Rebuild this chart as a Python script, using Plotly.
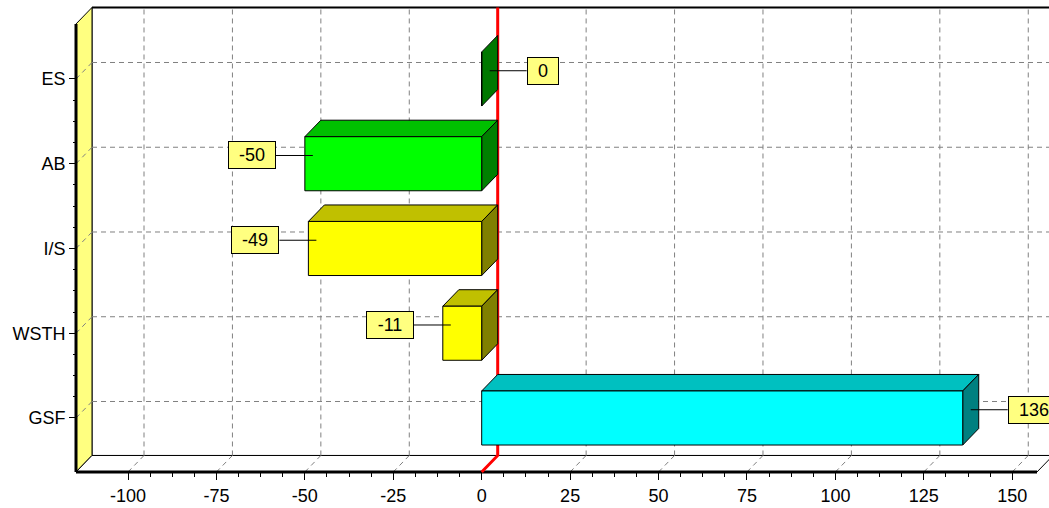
import plotly.graph_objects as go

# ---- data -------------------------------------------------------------
categories = ["ES", "AB", "I/S", "WSTH", "GSF"]          # top to bottom
values = [0, -50, -49, -11, 136]
x_ticks = [-100, -75, -50, -25, 0, 25, 50, 75, 100, 125, 150]
x_tick_labels = ["-100", "-75", "-50", "-25", "0", "25", "50", "75",
                 "100", "125", "150"]

# ---- style ------------------------------------------------------------
front_colors = ["#007800", "#00FF00", "#FFFF00", "#FFFF00", "#00FFFF"]
top_colors = ["#007800", "#00C000", "#C0C000", "#C0C000", "#00C0C0"]
side_colors = ["#007800", "#008000", "#808000", "#808000", "#008080"]
FONT = "Arial, Liberation Sans, sans-serif"
GRID = dict(color="#808080", width=1, dash="5px,4px")

# ---- geometry (data units) ---------------------------------------------
X_RANGE = [-136.19, 160.39]
Y_RANGE = [-1.062, 4.932]
W, H = 1049, 508
px_x = W / (X_RANGE[1] - X_RANGE[0])      # pixels per x unit
px_y = H / (Y_RANGE[1] - Y_RANGE[0])      # pixels per category
OX = 16.0 / px_x                          # depth offset, x
OY = 16.5 / px_y                          # depth offset, y
X0 = -114.7                               # front left wall
XF = 157.0                                # front floor right end
Y0 = -0.637                               # front floor
YT = 4.649                                # front top
HALF = 0.319                              # half bar thickness

n = len(categories)
pos = [n - 1 - i for i in range(n)]

shapes = []


def poly(pts, fill, line_color="black", width=1, layer="below"):
    d = "M " + " L ".join(f"{x},{y}" for x, y in pts) + " Z"
    shapes.append(dict(type="path", path=d, fillcolor=fill, layer=layer,
                       line=dict(color=line_color, width=width)))


def seg(x1, y1, x2, y2, line, layer="below"):
    shapes.append(dict(type="line", x0=x1, y0=y1, x1=x2, y1=y2,
                       line=line, layer=layer))


# back wall
poly([(X0 + OX, Y0 + OY), (X_RANGE[1] + 5, Y0 + OY),
      (X_RANGE[1] + 5, YT + OY), (X0 + OX, YT + OY)], "white")
seg(X0 + OX, YT + OY, X_RANGE[1] + 5, YT + OY, dict(color="black", width=2))

# left wall
poly([(X0, Y0), (X0, YT), (X0 + OX, YT + OY), (X0 + OX, Y0 + OY)], "#FFFF80")

# floor
poly([(X0, Y0), (XF, Y0), (XF + OX, Y0 + OY), (X0 + OX, Y0 + OY)], "white")

# grid on back wall, floor and left wall
for t in x_ticks:
    seg(t + OX, Y0 + OY, t + OX, YT + OY, GRID)
    seg(t + OX, Y0 + OY, t, Y0, GRID)
for p in pos:
    seg(X0 + OX, p + OY, X_RANGE[1] + 5, p + OY, GRID)
    seg(X0 + OX, p + OY, X0, p, GRID)

# front axis lines
seg(X0, Y0, X0, YT, dict(color="black", width=3))
seg(X0, Y0, XF, Y0, dict(color="black", width=3))

# zero line on the back wall, running down across the floor
shapes.append(dict(type="path", layer="below",
                   path=f"M {OX},{YT + OY} L {OX},{Y0 + OY} L 0,{Y0}",
                   line=dict(color="red", width=3)))

# 3D faces of the bars (top and end)
for v, p, tc, sc in zip(values, pos, top_colors, side_colors):
    lo, hi = min(0, v), max(0, v)
    if hi > lo:
        poly([(lo, p + HALF), (lo + OX, p + HALF + OY),
              (hi + OX, p + HALF + OY), (hi, p + HALF)], tc)
    poly([(hi, p - HALF), (hi, p + HALF),
          (hi + OX, p + HALF + OY), (hi + OX, p - HALF + OY)], sc)

fig = go.Figure()
fig.add_trace(go.Bar(
    y=pos, x=values, orientation="h", width=2 * HALF,
    marker=dict(color=front_colors, line=dict(color="black", width=1)),
    hoverinfo="skip", showlegend=False,
))

# value labels
annotations = []
for v, p in zip(values, pos):
    txt = str(v)
    tw = sum(6 if ch == "-" else 10 for ch in txt)
    annotations.append(dict(
        x=v + OX / 2, y=p + OY / 2, xref="x", yref="y",
        text=txt, showarrow=True, arrowhead=0, arrowwidth=1,
        arrowcolor="black", ax=37 if v >= 0 else -37, ay=0,
        xanchor="left" if v >= 0 else "right", yanchor="middle",
        width=tw + 18, height=24, align="center",
        bgcolor="#FFFF80", bordercolor="black", borderwidth=1, borderpad=1,
        font=dict(family=FONT, size=18, color="black"),
    ))

minor_x = [t + k * 6.25 for t in x_ticks[:-1] for k in (1, 2, 3)]
minor_y = [p + k * 0.25 for p in range(n - 1) for k in (1, 2, 3)]

fig.update_layout(
    width=W, height=H, margin=dict(l=0, r=0, t=0, b=0),
    paper_bgcolor="white", plot_bgcolor="white",
    shapes=shapes, annotations=annotations,
    font=dict(family=FONT, size=18, color="black"),
    xaxis=dict(range=X_RANGE, anchor="free", position=36 / H,
               tickvals=x_ticks, ticktext=x_tick_labels,
               ticks="outside", ticklen=7, tickcolor="black",
               showgrid=False, zeroline=False, showline=False,
               minor=dict(tickvals=minor_x, ticks="outside", ticklen=4,
                          tickcolor="black", showgrid=False)),
    yaxis=dict(range=Y_RANGE, anchor="free", position=76 / W,
               tickvals=pos, ticktext=categories, ticks="outside",
               ticklen=7, tickcolor="black",
               showgrid=False, zeroline=False, showline=False,
               minor=dict(tickvals=minor_y, ticks="outside", ticklen=3,
                          tickcolor="black", showgrid=False)),
)

fig.write_html("out.html")
